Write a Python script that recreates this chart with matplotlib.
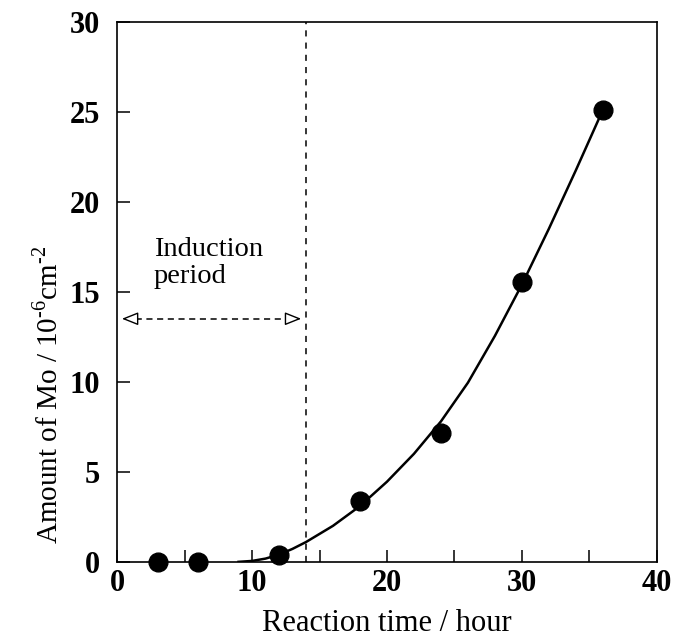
import matplotlib.pyplot as plt

plt.rcParams['font.family'] = ['Liberation Serif', 'DejaVu Serif']
plt.rcParams['mathtext.fontset'] = 'custom'
plt.rcParams['mathtext.rm'] = 'Liberation Serif'

# measured points
time_h = [3, 6, 12, 18, 24, 30, 36]
mo_amount = [0.0, 0.0, 0.4, 3.4, 7.15, 15.55, 25.1]

# fitted curve
curve_x = [9, 10, 11, 12, 13, 14, 16, 18, 20, 22, 24, 26, 28, 30, 32, 34, 36]
curve_y = [0, 0.05, 0.18, 0.4, 0.72, 1.1, 2.0, 3.1, 4.45, 6.0, 7.8, 9.95, 12.55, 15.4, 18.5, 21.75, 25.1]

induction_end = 14
arrow_y = 13.5

fig = plt.figure(figsize=(6.73, 6.37), dpi=100)
ax = fig.add_axes([0.174, 0.118, 0.802, 0.848])

ax.plot(curve_x, curve_y, color='black', lw=1.8)
ax.plot(time_h, mo_amount, 'o', color='black', ms=13.5, clip_on=False, zorder=5)

# end of induction period
ax.axvline(induction_end, color='black', ls=(0, (4, 4)), lw=1.1)
ax.plot([0.6, induction_end - 0.6], [arrow_y, arrow_y], color='black', ls=(0, (4, 3)), lw=1.1)
for start, end in [(1.7, 0.15), (induction_end - 1.7, induction_end - 0.15)]:
    ax.annotate('', xy=(end, arrow_y), xytext=(start, arrow_y),
                arrowprops=dict(arrowstyle='-|>,head_length=1.0,head_width=0.4',
                                fc='white', ec='black', lw=1.0))
ax.text(2.7, 16.6, 'Induction\nperiod', fontsize=20.5, va='center', ha='left', linespacing=1.15)

ax.set_xlim(0, 40)
ax.set_ylim(0, 30)
ax.set_xticks([0, 10, 20, 30, 40])
ax.set_xticks([5, 15, 25, 35], minor=True)
ax.set_yticks([0, 5, 10, 15, 20, 25, 30])
ax.tick_params(which='both', direction='in', length=9, width=1.1, labelsize=22, pad=5)
ax.tick_params(axis='y', pad=12)
for lbl in ax.get_xticklabels() + ax.get_yticklabels():
    lbl.set_fontweight('bold')
for s in ax.spines.values():
    s.set_linewidth(1.2)

ax.set_xlabel('Reaction time / hour', fontsize=22, labelpad=8)
ax.set_ylabel('Amount of Mo / 10$^{\u20106}$cm$^{\u20102}$', fontsize=21)
ax.yaxis.set_label_coords(-0.10, 0.31)

plt.savefig('out.png')
